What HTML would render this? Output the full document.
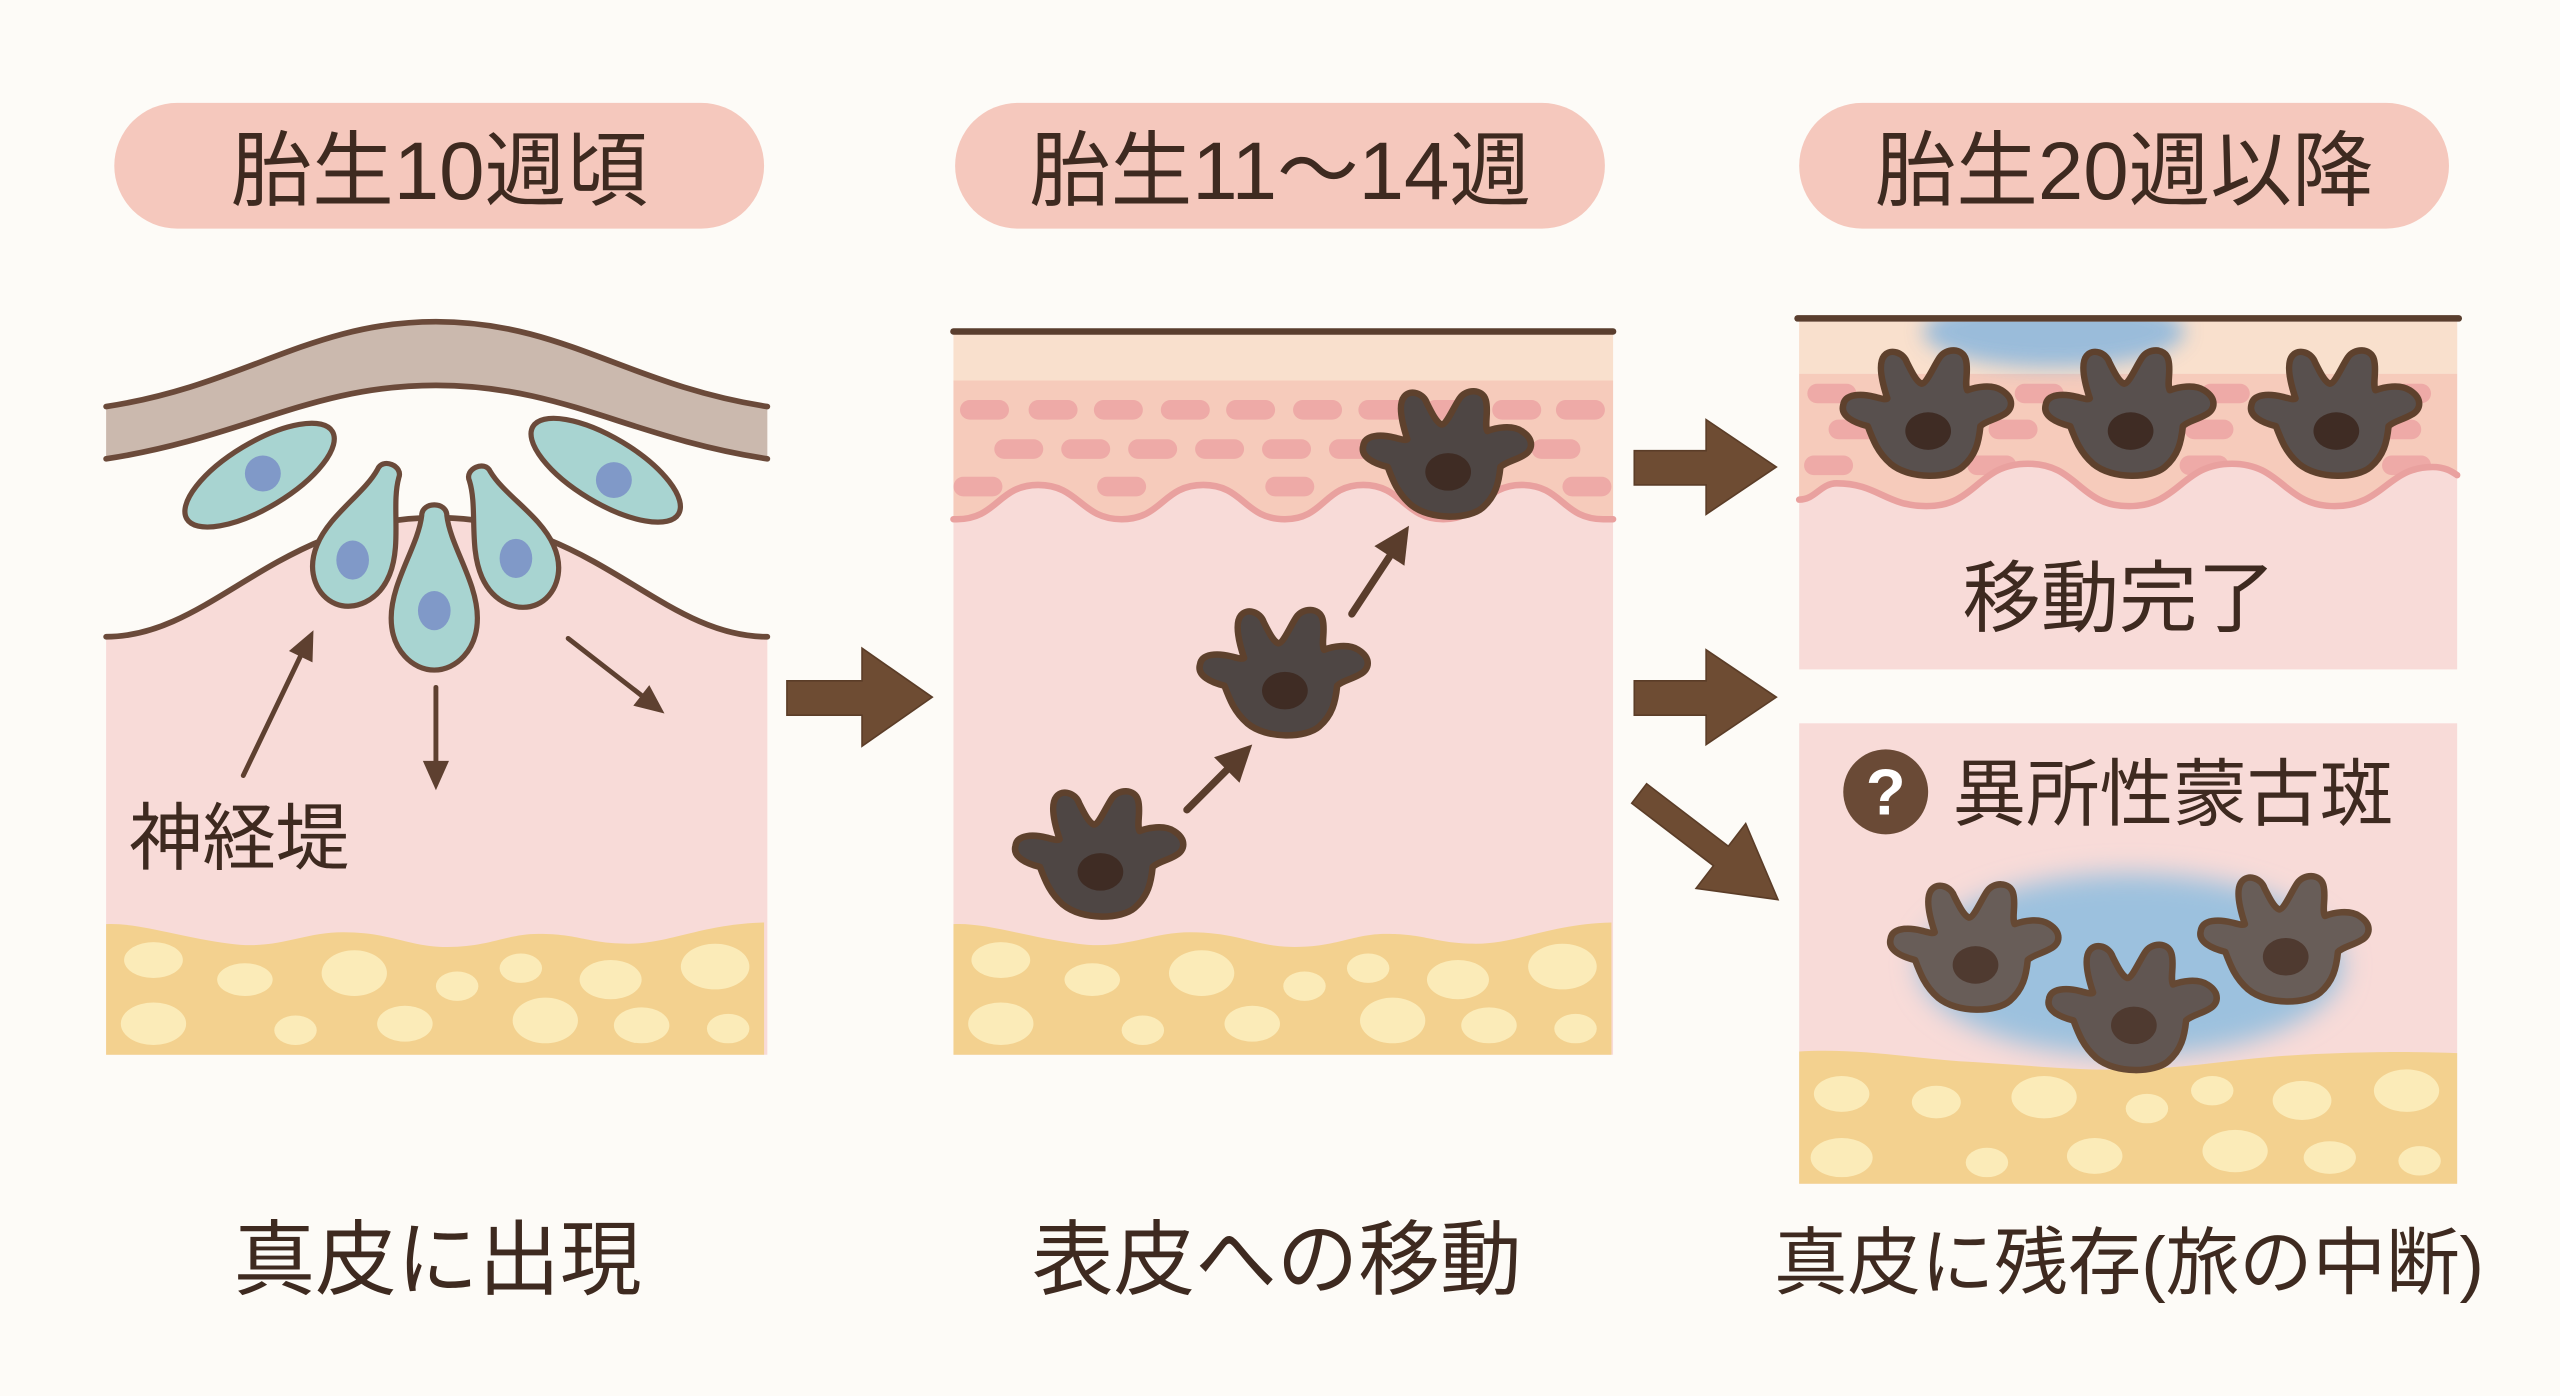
<!DOCTYPE html>
<html>
<head>
<meta charset="utf-8">
<style>
html,body{margin:0;padding:0;background:#fdfbf7;}
svg{display:block}
</style>
</head>
<body>
<svg width="2560" height="1396" viewBox="0 0 1568 855" xmlns="http://www.w3.org/2000/svg" xmlns:xlink="http://www.w3.org/1999/xlink" font-family="'Liberation Sans','Noto Sans CJK JP',sans-serif">
<defs>
  <filter id="blur8" x="-50%" y="-50%" width="200%" height="200%"><feGaussianBlur stdDeviation="8"/></filter>
  <filter id="blur6" x="-50%" y="-50%" width="200%" height="200%"><feGaussianBlur stdDeviation="6"/></filter>
  <path id="mcp" d="M -36,8 C -44,6 -53,2 -51,-5 C -50,-12 -40,-12 -32,-10 C -28,-9 -25,-8 -24,-9 C -27,-18 -30,-30 -26,-35 C -22,-40 -14,-37 -12,-31 C -9,-25 -6,-19 -3,-18 C 0,-18 4,-28 8,-34 C 12,-40 22,-40 24,-33 C 26,-26 23,-18 25,-14 C 30,-16 40,-18 46,-14 C 54,-9 53,-2 47,1 C 42,4 36,5 33,8 C 32,18 30,26 22,33 C 14,40 -10,41 -22,31 C -30,24 -33,16 -36,8 Z"/>
  <g id="cellA">
    <use xlink:href="#mcp" stroke="#5e412d" stroke-width="4" stroke-linejoin="round"/>
    <ellipse cx="1" cy="11" rx="14" ry="11.5" fill="#3f2c24"/>
  </g>
  <g id="cellB">
    <use xlink:href="#mcp" stroke="#654833" stroke-width="4" stroke-linejoin="round"/>
    <ellipse cx="1" cy="11" rx="14" ry="11.5" fill="#4f3a30"/>
  </g>
  <path id="tear" d="M -7,-42 C -7,-50 7,-50 7,-42 C 9,-25 24,-5 24,15 C 24,33 12,44 0,44 C -12,44 -24,33 -24,15 C -24,-5 -9,-25 -7,-42 Z"/>
  <g id="fat1">
    <path d="M65,566 C85,565 110,574 141,578 C170,582 185,571 210,571 C240,571 250,580 274,580 C300,580 310,572 330,572 C355,572 360,578 385,578 C410,578 430,566 468,565 L468,646 L65,646 Z" fill="#f3d18f"/>
    <g fill="#fbebb8">
      <ellipse cx="94" cy="588" rx="18" ry="11"/>
      <ellipse cx="150" cy="600" rx="17" ry="10"/>
      <ellipse cx="217" cy="596" rx="20" ry="14"/>
      <ellipse cx="280" cy="604" rx="13" ry="9"/>
      <ellipse cx="319" cy="593" rx="13" ry="9"/>
      <ellipse cx="374" cy="600" rx="19" ry="12"/>
      <ellipse cx="438" cy="592" rx="21" ry="14"/>
      <ellipse cx="94" cy="627" rx="20" ry="13"/>
      <ellipse cx="181" cy="631" rx="13" ry="9"/>
      <ellipse cx="248" cy="627" rx="17" ry="11"/>
      <ellipse cx="334" cy="625" rx="20" ry="14"/>
      <ellipse cx="393" cy="628" rx="17" ry="11"/>
      <ellipse cx="446" cy="630" rx="13" ry="9"/>
    </g>
  </g>
  <clipPath id="clipP2s"><path d="M584,233 L988,233 L988,318 L982,318 C957,318 957,297 932,297 C908,297 908,318 884,318 C860,318 859,297 835,297 C811,297 811,318 787,318 C762,318 762,297 737,297 C712,297 712,318 687,318 C662,318 661,297 636,297 C611,297 611,318 586,318 L584,318 Z"/></clipPath>
  <clipPath id="clipP3s"><path d="M1102,229 L1505,229 L1505,291 C1502,289 1498,286 1490,286 C1462,286 1460,310 1430,310 C1399,310 1398,284 1367,284 C1336,284 1335,310 1304,310 C1273,310 1273,284 1242,284 C1211,284 1211,310 1180,310 C1155,310 1150,296 1125,296 C1115,296 1112,306 1102,306 Z"/></clipPath>
  <clipPath id="clipP3t"><rect x="1102" y="197" width="403" height="213"/></clipPath>
  <clipPath id="clipP3b"><rect x="1102" y="443" width="403" height="282"/></clipPath>
</defs>

<rect x="0" y="0" width="1568" height="855" fill="#fdfbf7"/>

<!-- Pills -->
<rect x="70" y="63" width="398" height="77" rx="38.5" fill="#f5c8bd"/>
<rect x="585" y="63" width="398" height="77" rx="38.5" fill="#f5c8bd"/>
<rect x="1102" y="63" width="398" height="77" rx="38.5" fill="#f5c8bd"/>
<g fill="#3e2a20" font-size="50" text-anchor="middle">
  <text x="269" y="122">胎生10週頃</text>
  <text x="784" y="122">胎生11〜14週</text>
  <text x="1301" y="122">胎生20週以降</text>
</g>

<!-- ===== Panel 1 ===== -->
<path d="M65,390 C130,390 170,317 267,317 C364,317 404,390 470,390 L470,646 L65,646 Z" fill="#f8dbd8"/>
<use xlink:href="#fat1"/>
<path d="M65,390 C130,390 170,317 267,317 C364,317 404,390 470,390" fill="none" stroke="#6b4a3a" stroke-width="3.5" stroke-linecap="round"/>
<!-- band -->
<path d="M65,249 C150,236 190,197 267,197 C345,197 385,236 470,249 L470,281 C385,268 345,236 267,236 C190,236 150,268 65,281 Z" fill="#cbb9ae"/>
<path d="M65,249 C150,236 190,197 267,197 C345,197 385,236 470,249" fill="none" stroke="#6b4a3a" stroke-width="3.5" stroke-linecap="round"/>
<path d="M65,281 C150,268 190,236 267,236 C345,236 385,268 470,281" fill="none" stroke="#6b4a3a" stroke-width="3.5" stroke-linecap="round"/>
<!-- neural crest cells -->
<g fill="#a8d4d1" stroke="#6b4a3a" stroke-width="3.2">
  <ellipse cx="159" cy="291" rx="52" ry="20" transform="rotate(-31 159 291)"/>
  <ellipse cx="371" cy="288" rx="52" ry="20" transform="rotate(31 371 288)"/>
  <use xlink:href="#tear" transform="translate(222,329) rotate(22)"/>
  <use xlink:href="#tear" transform="translate(311,330) rotate(-24)"/>
  <use xlink:href="#tear" transform="translate(266,362) scale(1.1)" stroke-width="2.9"/>
</g>
<g fill="#8099c8">
  <ellipse cx="161" cy="290" rx="11" ry="11"/>
  <ellipse cx="376" cy="294" rx="11" ry="11"/>
  <ellipse cx="216" cy="343" rx="10" ry="12"/>
  <ellipse cx="316" cy="342" rx="10" ry="12"/>
  <ellipse cx="266" cy="374" rx="10" ry="12"/>
</g>
<!-- thin arrows -->
<g stroke="#5e4030" stroke-width="3" fill="none" stroke-linecap="round">
  <line x1="149" y1="475" x2="184" y2="402"/>
  <line x1="267" y1="421" x2="267" y2="467"/>
  <line x1="348" y1="391" x2="393" y2="426"/>
</g>
<g fill="#5e4030">
  <polygon points="192,386 191.4,405.7 177,398.7"/>
  <polygon points="267,484 259,466 275,466"/>
  <polygon points="407,437 387.9,432.2 397.7,419.6"/>
</g>
<text x="79" y="529" font-size="45" fill="#3e2a20">神経堤</text>

<!-- Big arrows -->
<g fill="#6e4c33" stroke="#5b3d28" stroke-width="1">
  <polygon points="482,417 528,417 528,397 571,427 528,457 528,438 482,438"/>
  <polygon points="1001,276 1045,276 1045,257 1088,286 1045,315 1045,297 1001,297"/>
  <polygon points="1001,417 1045,417 1045,398 1088,427 1045,456 1045,438 1001,438"/>
  <polygon points="0,-7.5 63,-7.5 63,-25 107,0 63,25 63,7.5 0,7.5" transform="translate(1004,486) rotate(37.4)"/>
</g>

<!-- ===== Panel 2 ===== -->
<rect x="584" y="204" width="404" height="442" fill="#f8dbd8"/>
<rect x="584" y="204" width="404" height="30" fill="#f9e0cd"/>
<path d="M584,233 L988,233 L988,318 L982,318 C957,318 957,297 932,297 C908,297 908,318 884,318 C860,318 859,297 835,297 C811,297 811,318 787,318 C762,318 762,297 737,297 C712,297 712,318 687,318 C662,318 661,297 636,297 C611,297 611,318 586,318 L584,318 Z" fill="#f6cbbb"/>
<g clip-path="url(#clipP2s)" fill="#eeaaa7">
  <rect x="588" y="245" width="30" height="12" rx="6"/>
  <rect x="630" y="245" width="30" height="12" rx="6"/>
  <rect x="670" y="245" width="30" height="12" rx="6"/>
  <rect x="711" y="245" width="30" height="12" rx="6"/>
  <rect x="751" y="245" width="30" height="12" rx="6"/>
  <rect x="792" y="245" width="30" height="12" rx="6"/>
  <rect x="832" y="245" width="30" height="12" rx="6"/>
  <rect x="873" y="245" width="30" height="12" rx="6"/>
  <rect x="914" y="245" width="30" height="12" rx="6"/>
  <rect x="953" y="245" width="30" height="12" rx="6"/>
  <rect x="609" y="269" width="30" height="12" rx="6"/>
  <rect x="650" y="269" width="30" height="12" rx="6"/>
  <rect x="691" y="269" width="30" height="12" rx="6"/>
  <rect x="732" y="269" width="30" height="12" rx="6"/>
  <rect x="773" y="269" width="30" height="12" rx="6"/>
  <rect x="814" y="269" width="30" height="12" rx="6"/>
  <rect x="855" y="269" width="30" height="12" rx="6"/>
  <rect x="896" y="269" width="30" height="12" rx="6"/>
  <rect x="938" y="269" width="30" height="12" rx="6"/>
  <rect x="584" y="292" width="30" height="12" rx="6"/>
  <rect x="672" y="292" width="30" height="12" rx="6"/>
  <rect x="775" y="292" width="30" height="12" rx="6"/>
  <rect x="869" y="292" width="30" height="12" rx="6"/>
  <rect x="957" y="292" width="30" height="12" rx="6"/>
</g>
<path d="M584,318 L586,318 C611,318 611,297 636,297 C661,297 662,318 687,318 C712,318 712,297 737,297 C762,297 762,318 787,318 C811,318 811,297 835,297 C859,297 860,318 884,318 C908,318 908,297 932,297 C957,297 957,318 982,318 L988,318" fill="none" stroke="#e9a19f" stroke-width="4" stroke-linecap="round"/>
<use xlink:href="#fat1" transform="translate(519,0)"/>
<line x1="584" y1="203" x2="988" y2="203" stroke="#5a3e2e" stroke-width="4" stroke-linecap="round"/>
<use xlink:href="#cellA" fill="#4e4644" transform="translate(673,523)"/>
<use xlink:href="#cellA" fill="#4e4644" transform="translate(786,412)"/>
<use xlink:href="#cellA" fill="#4e4644" transform="translate(886,278)"/>
<g stroke="#5a3d2c" stroke-width="4.5" stroke-linecap="round">
  <line x1="727" y1="496" x2="752" y2="471"/>
  <line x1="828" y1="376" x2="851" y2="341"/>
</g>
<g fill="#5a3d2c">
  <polygon points="767,456 759.2,479.4 743.6,463.8"/>
  <polygon points="863,322 860.2,346.5 841.8,334.5"/>
</g>

<!-- ===== Panel 3 top ===== -->
<rect x="1102" y="197" width="403" height="213" fill="#f8dbd8"/>
<rect x="1102" y="197" width="403" height="32" fill="#f9e0cd"/>
<path d="M1102,229 L1505,229 L1505,291 C1502,289 1498,286 1490,286 C1462,286 1460,310 1430,310 C1399,310 1398,284 1367,284 C1336,284 1335,310 1304,310 C1273,310 1273,284 1242,284 C1211,284 1211,310 1180,310 C1155,310 1150,296 1125,296 C1115,296 1112,306 1102,306 Z" fill="#f6cbbb"/>
<g clip-path="url(#clipP3s)" fill="#eeaaa7">
  <rect x="1107" y="235" width="30" height="12" rx="6"/>
  <rect x="1234" y="235" width="30" height="12" rx="6"/>
  <rect x="1348" y="235" width="30" height="12" rx="6"/>
  <rect x="1459" y="235" width="30" height="12" rx="6"/>
  <rect x="1120" y="257" width="30" height="12" rx="6"/>
  <rect x="1218" y="257" width="30" height="12" rx="6"/>
  <rect x="1338" y="257" width="30" height="12" rx="6"/>
  <rect x="1453" y="257" width="30" height="12" rx="6"/>
  <rect x="1105" y="279" width="30" height="12" rx="6"/>
  <rect x="1205" y="279" width="30" height="12" rx="6"/>
  <rect x="1335" y="279" width="30" height="12" rx="6"/>
  <rect x="1459" y="279" width="30" height="12" rx="6"/>
</g>
<path d="M1102,306 C1112,306 1115,296 1125,296 C1150,296 1155,310 1180,310 C1211,310 1211,284 1242,284 C1273,284 1273,310 1304,310 C1335,310 1336,284 1367,284 C1398,284 1399,310 1430,310 C1460,310 1462,286 1490,286 C1498,286 1502,289 1505,291" fill="none" stroke="#e9a19f" stroke-width="4" stroke-linecap="round"/>
<g clip-path="url(#clipP3t)">
  <ellipse cx="1258" cy="203" rx="80" ry="22" fill="#8fb8dc" filter="url(#blur6)" opacity="0.9"/>
</g>
<line x1="1101" y1="195" x2="1506" y2="195" stroke="#5a3e2e" stroke-width="4" stroke-linecap="round"/>
<use xlink:href="#cellA" fill="#58504e" transform="translate(1180,253)"/>
<use xlink:href="#cellA" fill="#58504e" transform="translate(1304,253)"/>
<use xlink:href="#cellA" fill="#58504e" transform="translate(1430,253)"/>
<text x="1298" y="383" font-size="48" fill="#3e2a20" text-anchor="middle">移動完了</text>

<!-- ===== Panel 3 bottom ===== -->
<rect x="1102" y="443" width="403" height="282" fill="#f8dbd8"/>
<g clip-path="url(#clipP3b)">
  <ellipse cx="1305" cy="591" rx="130" ry="56" fill="#9cc1de" filter="url(#blur8)"/>
</g>
<path d="M1102,644 C1140,642 1170,648 1200,650 C1240,652 1270,656 1305,655 C1345,654 1370,648 1410,646 C1450,644 1480,644 1505,645 L1505,725 L1102,725 Z" fill="#f3d18f"/>
<g fill="#fbebb8">
  <ellipse cx="1128" cy="670" rx="17" ry="11"/>
  <ellipse cx="1186" cy="675" rx="15" ry="10"/>
  <ellipse cx="1252" cy="672" rx="20" ry="13"/>
  <ellipse cx="1315" cy="679" rx="13" ry="9"/>
  <ellipse cx="1355" cy="668" rx="13" ry="9"/>
  <ellipse cx="1410" cy="674" rx="18" ry="12"/>
  <ellipse cx="1474" cy="668" rx="20" ry="13"/>
  <ellipse cx="1128" cy="709" rx="19" ry="12"/>
  <ellipse cx="1217" cy="712" rx="13" ry="9"/>
  <ellipse cx="1283" cy="708" rx="17" ry="11"/>
  <ellipse cx="1369" cy="705" rx="20" ry="13"/>
  <ellipse cx="1427" cy="709" rx="16" ry="10"/>
  <ellipse cx="1482" cy="711" rx="13" ry="9"/>
</g>
<use xlink:href="#cellB" fill="#685d58" transform="translate(1209,580)"/>
<use xlink:href="#cellB" fill="#615652" transform="translate(1306,617)"/>
<use xlink:href="#cellB" fill="#685d58" transform="translate(1399,575)"/>
<circle cx="1155" cy="485" r="26" fill="#6a4a36"/>
<text x="1155" y="499" font-size="40" font-weight="bold" fill="#ffffff" text-anchor="middle">?</text>
<text x="1196" y="502" font-size="45" fill="#3e2a20">異所性蒙古斑</text>

<!-- Bottom labels -->
<g fill="#3e2a20" text-anchor="middle">
  <text x="268" y="789" font-size="50">真皮に出現</text>
  <text x="782" y="789" font-size="50">表皮への移動</text>
  <text x="1304" y="789" font-size="45">真皮に残存(旅の中断)</text>
</g>
</svg>
</body>
</html>
